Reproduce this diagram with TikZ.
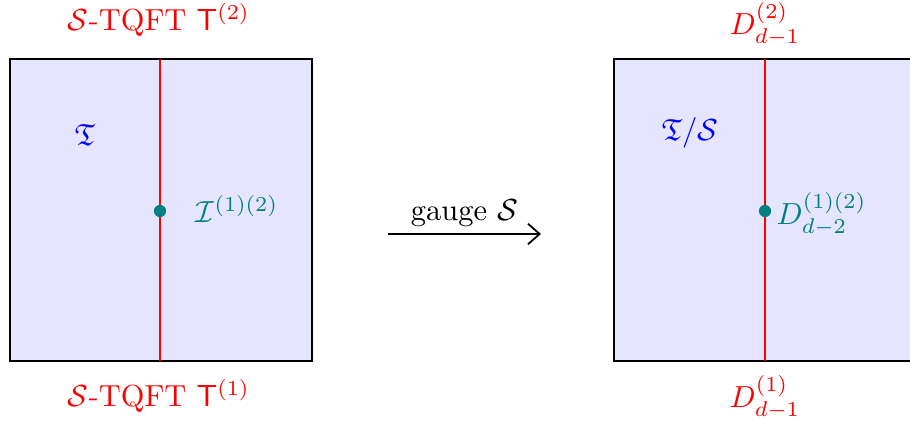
\documentclass[tikz,border=0pt]{standalone}
\usepackage{amsmath,amssymb}
\usetikzlibrary{arrows.meta}
\begin{document}
\begin{tikzpicture}[x=0.012cm,y=-0.012cm,
  every node/.append style={scale=1.04},
  panel/.style={draw=black,line width=0.8pt,fill=blue!10},
  wall/.style={draw=red,line width=0.8pt},
  pt/.style={circle,fill=teal,inner sep=0pt,minimum size=4pt},
  redlab/.style={text=red,inner sep=1pt},
  teallab/.style={text=teal,inner sep=1pt,anchor=west},
  bluelab/.style={text=blue,inner sep=1pt}]
\useasboundingbox (0,0) rectangle (910,425);
\clip (0,0) rectangle (910,425);
% left panel
\coordinate (L1) at (10,59);
\coordinate (L2) at (312,361);
\draw[panel] (L1) rectangle (L2);
\coordinate (Lt) at (160,59);
\coordinate (Lb) at (160,361);
\draw[wall] (Lt) -- (Lb);
\node[pt] (Ld) at (160,211) {};
\node[teallab] (Li) at (192,209) {$\mathcal{I}^{(1)(2)}$};
\node[bluelab] (LT) at (85,135) {$\mathfrak{T}$};
\node[redlab] (Ltop) at (159,20) {$\mathcal{S}$-TQFT $\mathsf{T}^{(2)}$};
\node[redlab] (Lbot) at (159,396) {$\mathcal{S}$-TQFT $\mathsf{T}^{(1)}$};
% arrow
\coordinate (A1) at (388,234);
\coordinate (A2) at (541,234);
\draw[-{Straight Barb[length=4pt,width=7pt]},line width=0.6pt] (A1) -- node[above=1pt,inner sep=1pt] (Ag) {gauge $\mathcal{S}$} (A2);
% right panel
\coordinate (R1) at (614,59);
\coordinate (R2) at (916,361);
\draw[panel] (R1) rectangle (R2);
\coordinate (Rt) at (765,59);
\coordinate (Rb) at (765,361);
\draw[wall] (Rt) -- (Rb);
\node[pt] (Rd) at (765,211) {};
\node[teallab] (Ri) at (773,214) {$D^{(1)(2)}_{d-2}$};
\node[bluelab] (RT) at (690,133) {$\mathfrak{T}/\mathcal{S}$};
\node[redlab] (Rtop) at (765,24) {$D^{(2)}_{d-1}$};
\node[redlab] (Rbot) at (765,397) {$D^{(1)}_{d-1}$};
\end{tikzpicture}
\end{document}
